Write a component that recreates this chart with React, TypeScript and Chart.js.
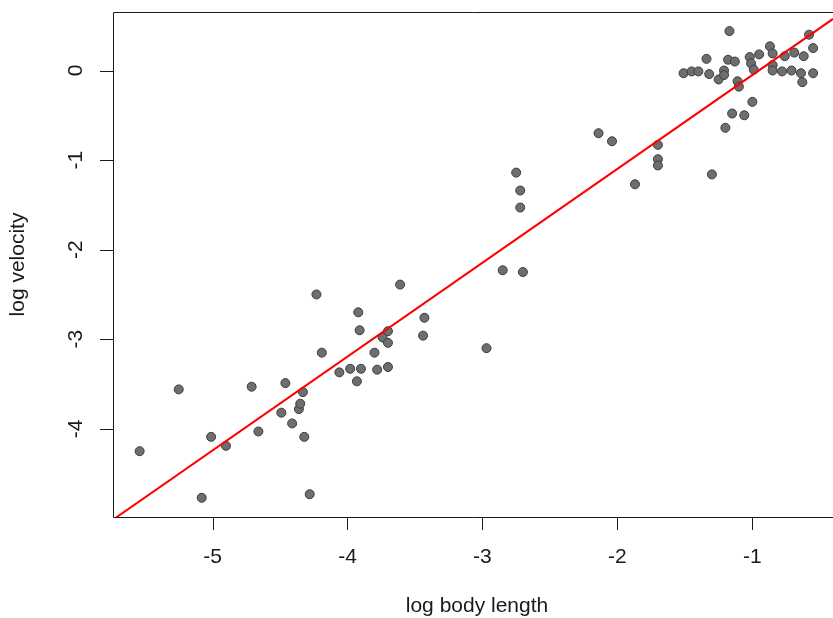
import React, { useEffect, useRef } from "react";
import { Chart, registerables } from "chart.js";

Chart.register(...registerables);

// log body length
const xValues = [
  -5.54, -5.25, -5.08, -5.01, -4.90, -4.71, -4.66, -4.49, -4.46, -4.41,
  -4.36, -4.35, -4.33, -4.32, -4.28, -4.23, -4.19, -4.06, -3.98, -3.93,
  -3.92, -3.91, -3.90, -3.80, -3.78, -3.74, -3.70, -3.70, -3.70, -3.61,
  -3.43, -3.44, -2.97, -2.85, -2.70, -2.75, -2.72, -2.72, -2.14, -2.04,
  -1.87, -1.70, -1.70, -1.70, -1.30, -1.20, -1.15, -1.06, -1.00,
  -1.51, -1.45, -1.40, -1.34, -1.32, -1.25, -1.21, -1.21, -1.17, -1.18,
  -1.13, -1.11, -1.10, -1.02, -1.01, -0.99, -0.95, -0.87, -0.85, -0.85,
  -0.85, -0.78, -0.76, -0.71, -0.69, -0.64, -0.62, -0.63, -0.58, -0.55,
  -0.55,
];

// log velocity
const yValues = [
  -4.25, -3.56, -4.77, -4.09, -4.19, -3.53, -4.03, -3.82, -3.49, -3.94,
  -3.78, -3.72, -3.59, -4.09, -4.73, -2.50, -3.15, -3.37, -3.33, -3.47,
  -2.70, -2.90, -3.33, -3.15, -3.34, -2.98, -2.91, -3.04, -3.31, -2.39,
  -2.76, -2.96, -3.10, -2.23, -2.25, -1.14, -1.34, -1.53, -0.70, -0.79,
  -1.27, -0.83, -0.99, -1.06, -1.16, -0.64, -0.48, -0.50, -0.35,
  -0.03, -0.01, -0.01, 0.13, -0.04, -0.10, 0.00, -0.05, 0.44, 0.12,
  0.10, -0.12, -0.18, 0.15, 0.08, 0.01, 0.18, 0.27, 0.19, 0.06,
  0.00, -0.01, 0.16, 0.00, 0.20, -0.03, 0.16, -0.13, 0.40, 0.25,
  -0.03,
];

const xTicks = [-5, -4, -3, -2, -1];
const yTicks = [0, -1, -2, -3, -4];

const fitIntercept = 0.998;
const fitSlope = 1.048;

const xAxisTitle = "log body length";
const yAxisTitle = "log velocity";

const X_MIN = -5.7372;
const X_MAX = -0.4027;
const Y_MIN = -4.9846;
const Y_MAX = 0.6531;

const FONT = '21px "Liberation Sans", Arial, Helvetica, sans-serif';
const INK = "#1a1a1a";

const framePlugin = {
  id: "rFrame",
  afterDraw(chart: any) {
    const ctx = chart.ctx as CanvasRenderingContext2D;
    const { left, top, right, bottom } = chart.chartArea;
    const xs = chart.scales.x;
    const ys = chart.scales.y;
    ctx.save();
    ctx.strokeStyle = INK;
    ctx.lineWidth = 1;
    // box (right edge lies outside the picture)
    ctx.beginPath();
    ctx.moveTo(right + 2, top + 0.5);
    ctx.lineTo(left + 0.5, top + 0.5);
    ctx.lineTo(left + 0.5, bottom + 0.5);
    ctx.lineTo(right + 2, bottom + 0.5);
    ctx.stroke();

    // tick marks
    ctx.beginPath();
    xTicks.forEach((t) => {
      const px = Math.round(xs.getPixelForValue(t)) + 0.5;
      ctx.moveTo(px, bottom + 0.5);
      ctx.lineTo(px, bottom + 13);
    });
    yTicks.forEach((t) => {
      const py = Math.round(ys.getPixelForValue(t)) + 0.5;
      ctx.moveTo(left - 13, py);
      ctx.lineTo(left + 0.5, py);
    });
    ctx.stroke();

    // tick labels
    ctx.fillStyle = INK;
    ctx.font = FONT;
    ctx.textAlign = "center";
    ctx.textBaseline = "alphabetic";
    xTicks.forEach((t) => {
      const px = xs.getPixelForValue(t);
      ctx.fillText(String(t), px, 563);
    });
    yTicks.forEach((t) => {
      const py = ys.getPixelForValue(t);
      ctx.save();
      ctx.translate(82, py);
      ctx.rotate(-Math.PI / 2);
      ctx.fillText(String(t), 0, 0);
      ctx.restore();
    });

    // axis titles
    ctx.fillText(xAxisTitle, 477, 612);
    ctx.save();
    ctx.translate(24, (top + bottom) / 2);
    ctx.rotate(-Math.PI / 2);
    ctx.fillText(yAxisTitle, 0, 0);
    ctx.restore();

    ctx.restore();
  },
};

export default function App() {
  const canvasRef = useRef<HTMLCanvasElement | null>(null);

  useEffect(() => {
    if (!canvasRef.current) return;
    const points = xValues.map((x, i) => ({ x, y: yValues[i] }));
    const lineData = [X_MIN, X_MAX].map((x) => ({ x, y: fitIntercept + fitSlope * x }));

    const chart = new Chart(canvasRef.current, {
      type: "scatter",
      data: {
        datasets: [
          {
            label: "fit",
            data: lineData,
            showLine: true,
            borderColor: "#ff0000",
            borderWidth: 2,
            pointRadius: 0,
            pointHoverRadius: 0,
            clip: 0,
          } as any,
          {
            label: "species",
            data: points,
            backgroundColor: "#6e6e6e",
            borderColor: "#3c3c3c",
            borderWidth: 1,
            pointRadius: 4.5,
            pointHoverRadius: 4.5,
          },
        ],
      },
      options: {
        responsive: false,
        animation: false,
        events: [],
        layout: { autoPadding: false, padding: { left: 113, top: 12, right: 0, bottom: 101 } },
        plugins: {
          legend: { display: false },
          title: { display: false },
          tooltip: { enabled: false },
        },
        scales: {
          x: { type: "linear", min: X_MIN, max: X_MAX, display: false },
          y: { type: "linear", min: Y_MIN, max: Y_MAX, display: false },
        },
      },
      plugins: [framePlugin],
    });
    return () => chart.destroy();
  }, []);

  return (
    <div style={{ position: "absolute", left: 0, top: 0, width: 833, height: 618, background: "#fff" }}>
      <canvas ref={canvasRef} width={833} height={618} style={{ display: "block" }} />
    </div>
  );
}
